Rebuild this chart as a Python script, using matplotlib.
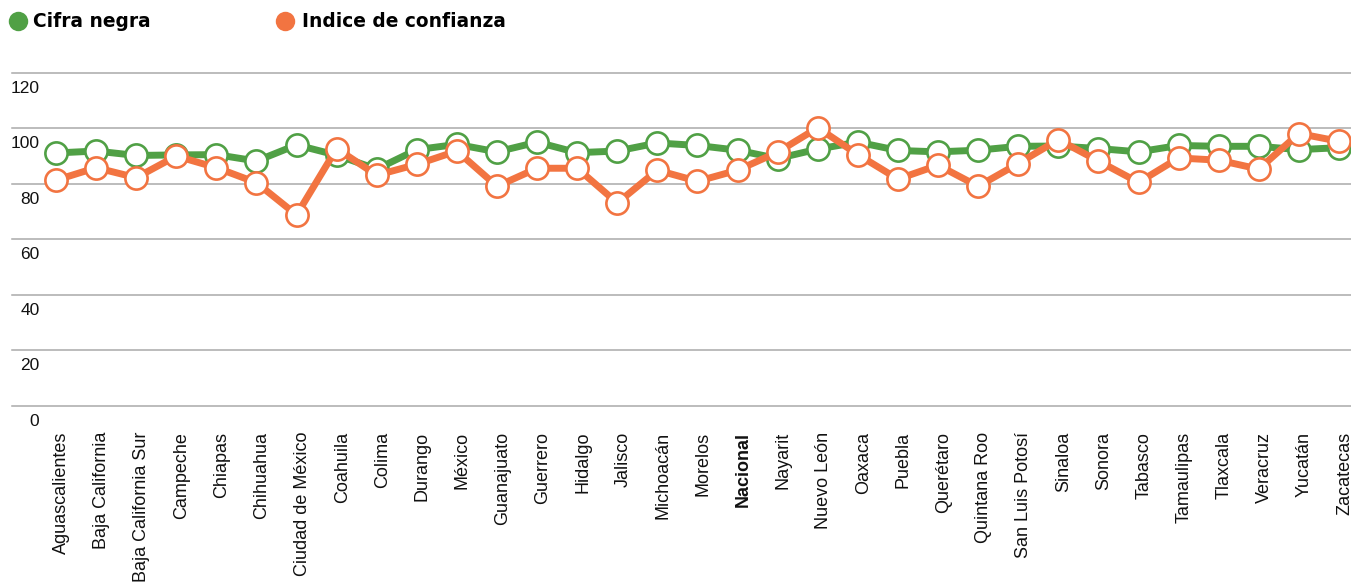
import matplotlib
matplotlib.use("Agg")
import matplotlib.pyplot as plt
from matplotlib.transforms import ScaledTranslation, blended_transform_factory

states = ["Aguascalientes", "Baja California", "Baja California Sur", "Campeche", "Chiapas",
          "Chihuahua", "Ciudad de México", "Coahuila", "Colima", "Durango", "México",
          "Guanajuato", "Guerrero", "Hidalgo", "Jalisco", "Michoacán", "Morelos", "Nacional",
          "Nayarit", "Nuevo León", "Oaxaca", "Puebla", "Querétaro", "Quintana Roo",
          "San Luis Potosí", "Sinaloa", "Sonora", "Tabasco", "Tamaulipas", "Tlaxcala",
          "Veracruz", "Yucatán", "Zacatecas"]

cifra_negra = [91.1, 91.8, 90.2, 90.4, 90.5, 88.2, 94.0, 90.3, 85.3, 92.3, 94.2,
               91.5, 95.0, 91.2, 91.8, 94.7, 93.8, 92.1, 89.1, 92.5, 95.0, 92.0,
               91.5, 92.1, 93.5, 93.6, 92.7, 91.5, 93.8, 93.5, 93.5, 92.3, 93.0]

indice_confianza = [81.3, 85.8, 82.2, 90.0, 85.8, 80.4, 68.8, 92.7, 83.1, 87.0, 91.8,
                    79.1, 85.6, 85.6, 73.1, 84.9, 80.9, 84.9, 91.4, 100.2, 90.5, 81.7,
                    86.7, 79.1, 87.3, 95.9, 88.2, 80.5, 89.3, 88.5, 85.3, 98.1, 95.3]

yticks = [0, 20, 40, 60, 80, 100, 120]
series_names = ["Cifra negra", "Indice de confianza"]

GREEN = "#50a045"
ORANGE = "#f27441"

W, H = 1351, 586
fig = plt.figure(figsize=(W / 100, H / 100), dpi=100)
ax = fig.add_axes([12 / W, (H - 406) / H, (W - 12) / W, (406 - 72.7) / H])

x = list(range(len(states)))
for vals, col in [(cifra_negra, GREEN), (indice_confianza, ORANGE)]:
    ax.plot(x, vals, color=col, lw=5.0, marker="o", markersize=16,
            markerfacecolor="white", markeredgecolor=col, markeredgewidth=1.9,
            solid_joinstyle="round", clip_on=False, zorder=3)

ax.set_ylim(0, 120)
sp = (1339 - 56) / 32
ax.set_xlim(-(56 - 12) / sp, 32 + 12 / sp)
for s in ax.spines.values():
    s.set_visible(False)

ax.set_yticks(yticks)
ax.yaxis.grid(True, color="#aaaaaa", lw=1.1)
for gl in ax.get_ygridlines():
    gl.set_clip_on(False)
ax.set_axisbelow(True)
ax.tick_params(axis="y", length=0, labelleft=False)

tr = blended_transform_factory(fig.transFigure, ax.transData) + \
    ScaledTranslation(0, -15.5 / 100, fig.dpi_scale_trans)
for v in yticks:
    ax.text(39.5 / W, v, str(v), transform=tr, ha="right", va="center",
            fontsize=12.5, family="Liberation Sans", color="#111111")

ax.set_xticks(x)
ax.set_xticklabels(states, rotation=90, fontsize=13, family="Liberation Sans",
                   color="#111111", va="top", ha="center")
ax.tick_params(axis="x", length=0, pad=18.5)
off = ScaledTranslation(5.5 / 100, 0, fig.dpi_scale_trans)
for lab in ax.get_xticklabels():
    lab.set_transform(lab.get_transform() + off)
    if lab.get_text() == "Nacional":
        lab.set_fontweight("bold")

# legend
for cx, tx, name, col in [(18, 33, series_names[0], GREEN), (284.5, 301.5, series_names[1], ORANGE)]:
    fig.lines.append(plt.Line2D([cx / W], [(H - 21) / H], transform=fig.transFigure,
                                marker="o", markersize=14, color=col, markeredgewidth=0))
    fig.text(tx / W, (H - 21.5) / H, name, ha="left", va="center", fontsize=13.4,
             fontweight="heavy", family="DejaVu Sans", color="#000000")

fig.savefig("out.png", dpi=100)
